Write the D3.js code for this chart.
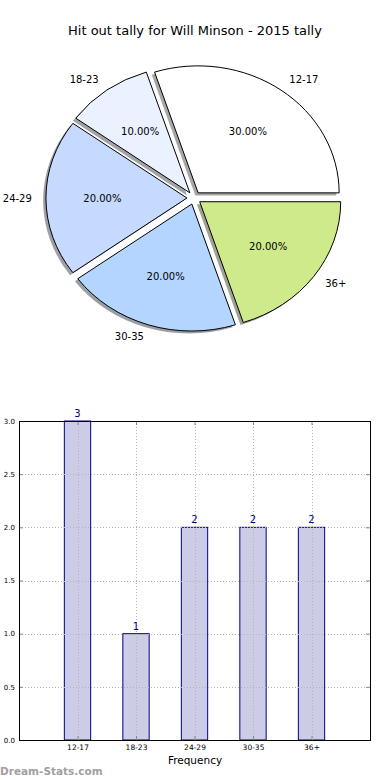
<!DOCTYPE html>
<html><head><meta charset="utf-8">
<script src="https://cdn.jsdelivr.net/npm/d3@7"></script>
<style>body{margin:0;background:#fff}svg{display:block}text{font-family:"DejaVu Sans",sans-serif}</style>
</head><body>
<script>
const categories = ["12-17","18-23","24-29","30-35","36+"];
const tally = [3,1,2,2,2];
const sliceColors = ["#ffffff","#eaf1ff","#c6d9ff","#b3d5ff","#cfea8a"];
const yTicks = [0,0.5,1,1.5,2,2.5,3];
const title = "Hit out tally for Will Minson - 2015 tally";

const W=390,H=780;
const svg=d3.select("body").append("svg").attr("width",W).attr("height",H);

svg.append("text").attr("x",195).attr("y",30).attr("text-anchor","middle")
  .attr("dominant-baseline","central").attr("font-size",13).text(title);

// ---- Pie ----
const cx=194, cy=198, rx=141, ry=127, explode=0.05;
const pie=d3.pie().sort(null).startAngle(Math.PI/2).endAngle(Math.PI/2-2*Math.PI);
const arcs=pie(tally);
const total=d3.sum(tally);
const arcGen=d3.arc().innerRadius(0).outerRadius(1);
const pg=svg.append("g");
arcs.forEach((a,i)=>{
  const m=(a.startAngle+a.endAngle)/2;
  const ox=cx+explode*rx*Math.sin(m), oy=cy-explode*ry*Math.cos(m);
  const c=d3.rgb(sliceColors[i]);
  pg.append("path").attr("d",arcGen(a))
    .attr("transform",`translate(${ox-0.02*rx},${oy+0.02*ry}) scale(${rx},${ry})`)
    .attr("fill",`rgba(${c.r*0.3},${c.g*0.3},${c.b*0.3},0.5)`);
  pg.append("path").attr("d",arcGen(a))
    .attr("transform",`translate(${ox},${oy}) scale(${rx},${ry})`)
    .attr("fill",sliceColors[i]).attr("stroke","#000").attr("stroke-width",1)
    .attr("vector-effect","non-scaling-stroke");
  const lx=ox+1.1*rx*Math.sin(m), ly=oy-1.1*ry*Math.cos(m);
  svg.append("text").attr("x",lx).attr("y",ly)
    .attr("text-anchor",Math.sin(m)>0?"start":"end").attr("dominant-baseline","central")
    .attr("font-size",10).text(categories[i]);
  const px=ox+0.6*rx*Math.sin(m), py=oy-0.6*ry*Math.cos(m);
  svg.append("text").attr("x",px).attr("y",py).attr("text-anchor","middle")
    .attr("dominant-baseline","central").attr("font-size",10)
    .text((100*tally[i]/total).toFixed(2)+"%");
});

// ---- Bar chart ----
const L=19,R=370,T=421,B=740;
const x=d3.scaleLinear().domain([-1,5]).range([L,R]);
const y=d3.scaleLinear().domain([0,3]).range([B,T]);
const bw=0.45;
svg.append("g").selectAll("rect.bar").data(tally).join("rect").attr("class","bar")
  .attr("x",(d,i)=>x(i-bw/2)).attr("width",x(bw)-x(0))
  .attr("y",d=>y(d)).attr("height",d=>B-y(d))
  .attr("fill","#ccccе6".replace("е","e")).attr("stroke","#000080").attr("stroke-width",1);
// grid
const grid=svg.append("g").attr("stroke","#b4b4b4").attr("stroke-width",1).attr("stroke-dasharray","1,2");
grid.selectAll("line.h").data(yTicks).join("line").attr("class","h")
  .attr("x1",L).attr("x2",R).attr("y1",d=>Math.round(y(d))+0.5).attr("y2",d=>Math.round(y(d))+0.5);
grid.selectAll("line.v").data(categories).join("line").attr("class","v")
  .attr("y1",T).attr("y2",B).attr("x1",(d,i)=>Math.round(x(i))+0.5).attr("x2",(d,i)=>Math.round(x(i))+0.5);
// axes via d3
const ya=svg.append("g").attr("transform",`translate(${L},0)`)
  .call(d3.axisLeft(y).tickValues(yTicks).tickFormat(d3.format(".1f")).tickSizeInner(-4).tickSizeOuter(0).tickPadding(4));
const yaR=svg.append("g").attr("transform",`translate(${R},0)`)
  .call(d3.axisRight(y).tickValues(yTicks).tickFormat("").tickSizeInner(-4).tickSizeOuter(0));
const xa=svg.append("g").attr("transform",`translate(0,${B})`)
  .call(d3.axisBottom(x).tickValues(d3.range(categories.length)).tickFormat(i=>categories[i]).tickSizeInner(-4).tickSizeOuter(0).tickPadding(5));
const xaT=svg.append("g").attr("transform",`translate(0,${T})`)
  .call(d3.axisTop(x).tickValues(d3.range(categories.length)).tickFormat("").tickSizeInner(-4).tickSizeOuter(0));
[ya,yaR,xa,xaT].forEach(g=>{g.select(".domain").remove();g.selectAll(".tick line").attr("stroke","#888");});
ya.selectAll("text").attr("font-size",7).attr("font-family","DejaVu Sans").attr("fill","#000");
xa.selectAll("text").attr("font-size",7.5).attr("font-family","DejaVu Sans").attr("fill","#000");
svg.append("rect").attr("x",L+0.5).attr("y",T+0.5).attr("width",R-L).attr("height",B-T)
  .attr("fill","none").attr("stroke","#000").attr("stroke-width",1);
// value labels
svg.selectAll("text.val").data(tally).join("text").attr("class","val")
  .attr("x",(d,i)=>x(i)).attr("y",d=>y(d)-4).attr("text-anchor","middle")
  .attr("font-size",10).attr("fill","#000080").text(d=>d);
svg.append("text").attr("x",195).attr("y",760).attr("text-anchor","middle")
  .attr("dominant-baseline","central").attr("font-size",10.5).text("Frequency");
svg.append("text").attr("x",0).attr("y",771).attr("dominant-baseline","central")
  .attr("font-size",10.5).attr("font-weight","bold").attr("fill","#a0a0a0").text("Dream-Stats.com");
</script>
</body></html>
